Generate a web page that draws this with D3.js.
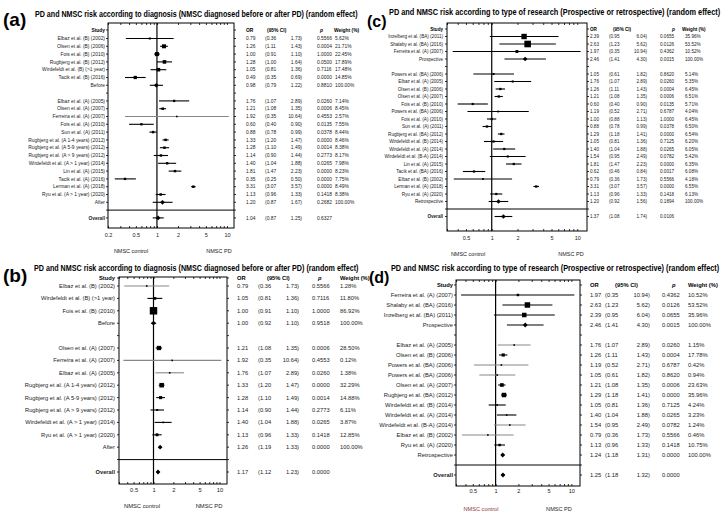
<!DOCTYPE html>
<html><head><meta charset="utf-8">
<script src="https://cdn.jsdelivr.net/npm/d3@7"></script>
<style>body{margin:0;background:#fff}svg{display:block}text{font-family:"Liberation Sans",Arial,sans-serif}</style>
</head><body><svg id="c" width="727" height="517"></svg>
<script>
// ---------- DATA ----------
const summaryNames = ["Before","After","Prospective","Retrospective"];

const aTitle = "PD and NMSC risk according to diagnosis (NMSC diagnosed before or after PD) (random effect)";
const aLabels = ["Elbaz et al. (B) (2002)","Olsen et al. (B) (2006)","Fois et al. (B) (2010)","Rugbjerg et al. (B) (2012)","Wirdefeldt et al. (B) (>1 year)","Tacik et al. (B) (2016)","Before",null,"Elbaz et al. (A) (2005)","Olsen et al. (A) (2007)","Ferreira et al. (A) (2007)","Fois et al. (A) (2010)","Sun et al. (A) (2011)","Rugbjerg et al. (A 1-4 years) (2012)","Rugbjerg et al. (A 5-9 years) (2012)","Rugbjerg et al. (A > 9 years) (2012)","Wirdefeldt et al. (A > 1 year) (2014)","Lin et al. (A) (2015)","Tacik et al. (A) (2016)","Lerman et al. (A) (2018)","Ryu et al. (A > 1 year) (2020)","After"];
const aOR   = [0.79,1.26,1.00,1.28,1.05,0.49,0.98,null,1.76,1.21,1.92,0.60,0.88,1.33,1.28,1.14,1.40,1.81,0.35,3.31,1.13,1.20];
const aLow  = [0.36,1.11,0.91,1.00,0.81,0.35,0.79,null,1.07,1.08,0.35,0.40,0.78,1.20,1.10,0.90,1.04,1.47,0.25,3.07,0.96,0.87];
const aHigh = [1.73,1.43,1.10,1.64,1.36,0.69,1.22,null,2.89,1.35,10.64,0.90,0.99,1.47,1.49,1.44,1.88,2.23,0.50,3.57,1.33,1.67];
const aP    = [0.5566,0.0004,1.0000,0.0500,0.7116,0.0000,0.8810,null,0.0260,0.0006,0.4553,0.0135,0.0378,0.0000,0.0014,0.2773,0.0265,0.0000,0.0000,0.0000,0.1418,0.2682];
const aW    = [5.62,21.71,22.45,17.89,17.48,14.85,100,null,7.14,8.45,2.57,7.55,8.44,8.46,8.38,8.17,7.98,8.23,7.75,8.49,8.38,100];
const aOverall = [1.04,0.87,1.25,0.6327];
const aTicks = [0.2,0.5,1,2,5,10];

const bTitle = "PD and NMSC risk according to diagnosis (NMSC diagnosed before or after PD) (random effect)";
const bLabels = ["Elbaz et al. (B) (2002)","Wirdefeldt et al. (B) (>1 year)","Fois et al. (B) (2010)","Before",null,"Olsen et al. (A) (2007)","Ferreira et al. (A) (2007)","Elbaz et al. (A) (2005)","Rugbjerg et al. (A 1-4 years) (2012)","Rugbjerg et al. (A 5-9 years) (2012)","Rugbjerg et al. (A > 9 years) (2012)","Wirdefeldt et al. (A > 1 year) (2014)","Ryu et al. (A > 1 year) (2020)","After"];
const bOR   = [0.79,1.05,1.00,1.00,null,1.21,1.92,1.76,1.33,1.28,1.14,1.40,1.13,1.26];
const bLow  = [0.36,0.81,0.91,0.92,null,1.08,0.35,1.07,1.20,1.10,0.90,1.04,0.96,1.19];
const bHigh = [1.73,1.36,1.10,1.10,null,1.35,10.64,2.89,1.47,1.49,1.44,1.88,1.33,1.33];
const bP    = [0.5566,0.7116,1.0000,0.9518,null,0.0006,0.4553,0.0260,0.0000,0.0014,0.2773,0.0265,0.1418,0.0000];
const bW    = [1.28,11.80,86.92,100,null,28.50,0.12,1.38,32.29,14.88,6.11,3.87,12.85,100];
const bOverall = [1.17,1.12,1.23,0.0000];
const bTicks = [0.5,1,2,5,10];

const cTitle = "PD and NMSC risk according to type of research (Prospective or retrospective) (random effect)";
const cLabels = ["Inzelberg et al. (BA) (2011)","Shalaby et al. (BA) (2016)","Ferreira et al. (A) (2007)","Prospective",null,"Powers et al. (BA) (2006)","Elbaz et al. (A) (2005)","Olsen et al. (B) (2006)","Olsen et al. (A) (2007)","Fois et al. (B) (2010)","Powers et al. (BA) (2006)","Fois et al. (A) (2010)","Sun et al. (A) (2011)","Rugbjerg et al. (BA) (2012)","Wirdefeldt et al. (B) (2014)","Wirdefeldt et al. (A) (2014)","Wirdefeldt et al. (B-A) (2014)","Lin et al. (A) (2015)","Tacik et al. (BA) (2016)","Elbaz et al. (B) (2002)","Lerman et al. (A) (2018)","Ryu et al. (A) (2020)","Retrospective"];
const cOR   = [2.39,2.63,1.97,2.46,null,1.05,1.76,1.26,1.21,0.60,1.19,1.00,0.88,1.29,1.05,1.40,1.54,1.81,0.62,0.79,3.31,1.13,1.20];
const cLow  = [0.95,1.23,0.35,1.41,null,0.61,1.07,1.11,1.08,0.40,0.52,0.88,0.78,1.18,0.81,1.04,0.95,1.47,0.46,0.36,3.07,0.96,0.92];
const cHigh = [6.04,5.62,10.94,4.30,null,1.82,2.89,1.43,1.35,0.90,2.71,1.13,0.99,1.41,1.36,1.88,2.49,2.23,0.84,1.73,3.57,1.33,1.56];
const cP    = [0.0655,0.0126,0.4362,0.0015,null,0.8620,0.0260,0.0004,0.0006,0.0135,0.6787,1.0000,0.0378,0.0000,0.7125,0.0265,0.0782,0.0000,0.0017,0.5566,0.0000,0.1418,0.1894];
const cW    = [35.96,53.52,10.52,100,null,5.14,5.35,6.45,6.51,5.71,4.04,6.45,6.50,6.54,6.20,6.05,5.42,6.35,6.08,4.18,6.55,6.13,100];
const cOverall = [1.37,1.08,1.74,0.0106];
const cTicks = [0.5,1,2,5,10];

const dTitle = "PD and NMSC risk according to type of research (Prospective or retrospective) (random effect)";
const dLabels = ["Ferreira et al. (A) (2007)","Shalaby et al. (BA) (2016)","Inzelberg et al. (BA) (2011)","Prospective",null,"Elbaz et al. (A) (2005)","Olsen et al. (B) (2006)","Powers et al. (BA) (2006)","Powers et al. (BA) (2006)","Olsen et al. (A) (2007)","Rugbjerg et al. (BA) (2012)","Wirdefeldt et al. (B) (2014)","Wirdefeldt et al. (A) (2014)","Wirdefeldt et al. (B-A) (2014)","Elbaz et al. (B) (2002)","Ryu et al. (A) (2020)","Retrospective"];
const dOR   = [1.97,2.63,2.39,2.46,null,1.76,1.26,1.19,1.05,1.21,1.29,1.05,1.40,1.54,0.79,1.13,1.24];
const dLow  = [0.35,1.23,0.95,1.41,null,1.07,1.11,0.52,0.61,1.08,1.18,0.81,1.04,0.95,0.36,0.96,1.18];
const dHigh = [10.94,5.62,6.04,4.30,null,2.89,1.43,2.71,1.82,1.35,1.41,1.36,1.88,2.49,1.73,1.33,1.31];
const dP    = [0.4362,0.0126,0.0655,0.0015,null,0.0260,0.0004,0.6787,0.8620,0.0006,0.0000,0.7125,0.0265,0.0782,0.5566,0.1418,0.0000];
const dW    = [10.52,53.52,35.96,100,null,1.15,17.78,0.42,0.94,23.63,35.96,4.24,3.23,1.24,0.46,10.75,100];
const dOverall = [1.25,1.18,1.32,0.0000];
const dTicks = [0.5,1,2,5,10];

// ---------- LAYOUT ----------
const svg = d3.select("#c");
const f2 = d3.format(".2f"), f4 = d3.format(".4f");
const TXT = "#222";

function drawPanel(cfg, d) {
  const g = svg.append("g");
  const x = d3.scaleLog().domain(cfg.domain).range([cfg.boxL, cfg.boxR]);
  const n = d.labels.length;
  const y = i => cfg.row0 + i * cfg.step;
  const lineY = y(n), ovY = y(n + 1);

  g.append("text").attr("x", cfg.letterX).attr("y", cfg.letterY).attr("font-size", cfg.letterSize)
    .attr("font-weight", "bold").attr("fill", "#000").text(cfg.letter);
  const tt = g.append("text").attr("font-size", cfg.titleSize)
    .attr("font-weight", "bold").attr("fill", "#000").text(d.title);
  const nat = tt.node().getComputedTextLength();
  tt.attr("transform", `translate(${cfg.titleX},${cfg.titleY}) scale(${cfg.titleW / nat},1)`);

  // box
  g.append("rect").attr("x", cfg.boxL).attr("y", cfg.boxTop).attr("width", cfg.boxR - cfg.boxL)
    .attr("height", cfg.boxBot - cfg.boxTop).attr("fill", "none").attr("stroke", "#000").attr("stroke-width", 1);

  const minor = x.ticks();
  const bAx = g.append("g").attr("transform", `translate(0,${cfg.boxBot})`)
    .call(d3.axisBottom(x).tickValues(minor).tickSize(-2).tickFormat(""));
  const tAx = g.append("g").attr("transform", `translate(0,${cfg.boxTop})`)
    .call(d3.axisTop(x).tickValues(minor).tickSize(-2).tickFormat(""));
  [bAx, tAx].forEach(a => { a.select(".domain").remove(); a.selectAll("line").attr("stroke", "#000").attr("stroke-width", 0.8); });

  const lab = g.append("g").attr("transform", `translate(0,${cfg.tickY})`)
    .call(d3.axisBottom(x).tickValues(d.ticks).tickSize(0).tickPadding(0).tickFormat(d3.format("~g")));
  lab.select(".domain").remove();
  lab.attr("font-family", null).attr("font-size", null);
  lab.selectAll("text").attr("font-size", cfg.tickFs).attr("fill", TXT);

  // side row ticks
  d3.range(-1, n + 2).forEach(i => {
    const yy = i === -1 ? cfg.headY : y(i);
    g.append("line").attr("x1", cfg.boxL - 2).attr("x2", cfg.boxL).attr("y1", yy).attr("y2", yy).attr("stroke", "#000").attr("stroke-width", 0.8);
    g.append("line").attr("x1", cfg.boxR).attr("x2", cfg.boxR + 2).attr("y1", yy).attr("y2", yy).attr("stroke", "#000").attr("stroke-width", 0.8);
  });

  // reference line and separator
  g.append("line").attr("x1", x(1)).attr("x2", x(1)).attr("y1", cfg.boxTop).attr("y2", cfg.boxBot).attr("stroke", "#000").attr("stroke-width", 1.2);
  g.append("line").attr("x1", cfg.boxL).attr("x2", cfg.boxR).attr("y1", lineY).attr("y2", lineY).attr("stroke", "#000").attr("stroke-width", 1);

  // header
  const hdr = (tx, xx, anchor, italic) => g.append("text").attr("x", xx).attr("y", cfg.headY).attr("dy", "0.35em")
    .attr("font-size", cfg.fs).attr("font-weight", "bold").attr("font-style", italic ? "italic" : null)
    .attr("text-anchor", anchor).attr("fill", "#000").text(tx);
  hdr("Study", cfg.labelR, "end");
  hdr("OR", cfg.orX, "start");
  hdr("(95% CI)", cfg.ciHX, "start");
  hdr("p", cfg.pHX, "start", true);
  hdr("Weight (%)", cfg.wHX, "start");

  const cl = v => Math.max(cfg.domain[0], Math.min(cfg.domain[1], v));
  const rowText = (yy, label, or, lo, hi, p, w, bold) => {
    const t = (tx, xx, anchor, b) => g.append("text").attr("x", xx).attr("y", yy).attr("dy", "0.35em")
      .attr("font-size", cfg.fs).attr("text-anchor", anchor).attr("font-weight", b ? "bold" : null)
      .attr("fill", TXT).text(tx);
    t(label, cfg.labelR, "end", bold);
    t(f2(or), cfg.orX, "start");
    t("(" + f2(lo), cfg.loX, "start");
    t(f2(hi) + ")", cfg.hiR, "end");
    t(f4(p), cfg.pX, "start");
    if (w != null) t(f2(w) + "%", cfg.wX, "start");
  };
  const diamond = (xx, yy, r) => g.append("path")
    .attr("d", `M${xx - r},${yy}L${xx},${yy - r}L${xx + r},${yy}L${xx},${yy + r}Z`).attr("fill", "#000");

  d.labels.forEach((label, i) => {
    if (label === null) return;
    const yy = y(i);
    const isSum = summaryNames.includes(label);
    const w = d.w[i];
    const col = (!isSum && w < 3) ? "#888" : "#000";
    g.append("line").attr("x1", x(cl(d.low[i]))).attr("x2", x(cl(d.high[i]))).attr("y1", yy).attr("y2", yy)
      .attr("stroke", col).attr("stroke-width", 1.1);
    if (isSum) diamond(x(d.or[i]), yy, cfg.dia);
    else {
      const s = Math.max(1.6, cfg.k * Math.sqrt(w));
      g.append("rect").attr("x", x(d.or[i]) - s / 2).attr("y", yy - s / 2).attr("width", s).attr("height", s).attr("fill", "#000");
    }
    rowText(yy, label, d.or[i], d.low[i], d.high[i], d.p[i], w, false);
  });
  const o = d.overall;
  g.append("line").attr("x1", x(o[1])).attr("x2", x(o[2])).attr("y1", ovY).attr("y2", ovY).attr("stroke", "#000").attr("stroke-width", 1.1);
  diamond(x(o[0]), ovY, cfg.dia);
  rowText(ovY, "Overall", o[0], o[1], o[2], o[3], null, true);

  g.append("text").attr("x", cfg.ctrlX).attr("y", cfg.nmscY).attr("text-anchor", "middle").attr("font-size", cfg.tickFs)
    .attr("fill", cfg.ctrlColor || TXT).text("NMSC control");
  g.append("text").attr("x", cfg.pdX).attr("y", cfg.nmscY).attr("text-anchor", "middle").attr("font-size", cfg.tickFs)
    .attr("fill", TXT).text("NMSC PD");
}

drawPanel({letter:"(a)", letterX:3, letterY:26, letterSize:19, titleX:35, titleY:17, titleW:323, titleSize:8.5,
  labelR:105, boxL:108, boxR:234, domain:[0.2,12.6], boxTop:23, boxBot:228, row0:38.5, step:7.8, headY:30,
  fs:4.9, orX:246, loX:265, hiR:302, pX:317, wX:335, pHX:320, ciHX:267, wHX:334,
  tickY:233, tickFs:5.5, nmscY:253, ctrlX:131, pdX:219, k:0.85, dia:2.4},
  {title:aTitle, labels:aLabels, or:aOR, low:aLow, high:aHigh, p:aP, w:aW, overall:aOverall, ticks:aTicks});

drawPanel({letter:"(b)", letterX:3, letterY:282, letterSize:19, titleX:34, titleY:271, titleW:325, titleSize:8.5,
  labelR:115, boxL:119, boxR:227, domain:[0.3,13], boxTop:277, boxBot:484, row0:286, step:12.4, headY:278,
  fs:5.75, orX:237, loX:258, hiR:299, pX:312, wX:340, pHX:318, ciHX:267, wHX:340,
  tickY:488, tickFs:5.8, nmscY:508, ctrlX:142, pdX:209, k:0.8, dia:2.4},
  {title:bTitle, labels:bLabels, or:bOR, low:bLow, high:bHigh, p:bP, w:bW, overall:bOverall, ticks:bTicks});

drawPanel({letter:"(c)", letterX:367, letterY:27, letterSize:16, titleX:389, titleY:15, titleW:332, titleSize:8.5,
  labelR:443, boxL:447, boxR:587, domain:[0.3,13], boxTop:23, boxBot:231, row0:36.5, step:7.5, headY:29,
  fs:4.6, orX:590, loX:609, hiR:647, pX:660, wX:685, pHX:672, ciHX:613, wHX:682,
  tickY:236, tickFs:5.5, nmscY:256, ctrlX:468, pdX:571, k:0.9, dia:2.3},
  {title:cTitle, labels:cLabels, or:cOR, low:cLow, high:cHigh, p:cP, w:cW, overall:cOverall, ticks:cTicks});

drawPanel({letter:"(d)", letterX:369, letterY:283, letterSize:16, titleX:391, titleY:271, titleW:329, titleSize:8.5,
  labelR:453, boxL:456, boxR:580, domain:[0.3,13], boxTop:280, boxBot:486, row0:295, step:10, headY:285,
  fs:5.8, orX:590, loX:605, hiR:650, pX:662, wX:688, pHX:672, ciHX:615, wHX:688,
  tickY:489, tickFs:5.6, nmscY:511, ctrlX:481, pdX:559, ctrlColor:"#8b3a3a", k:0.75, dia:2.4},
  {title:dTitle, labels:dLabels, or:dOR, low:dLow, high:dHigh, p:dP, w:dW, overall:dOverall, ticks:dTicks});
</script></body></html>
